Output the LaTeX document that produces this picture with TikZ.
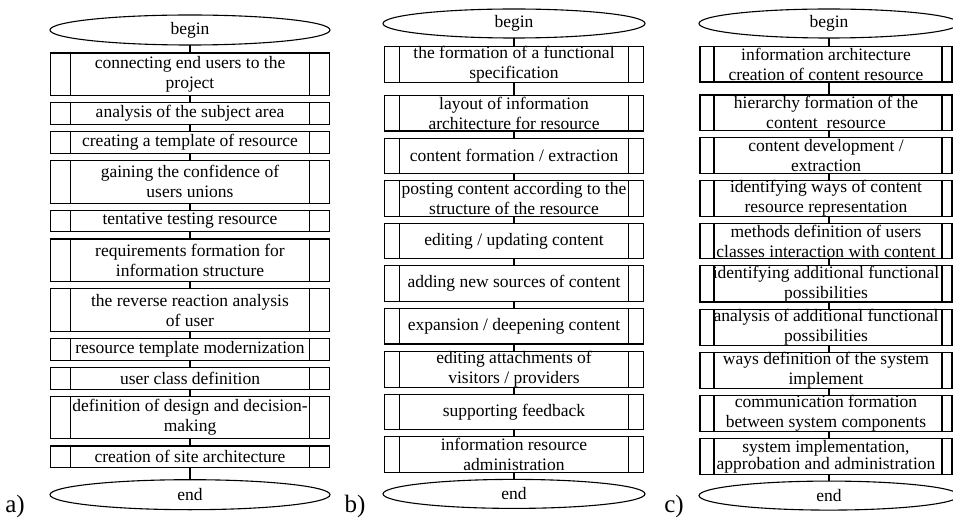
\documentclass[tikz,border=0pt]{standalone}
\usepackage{fontspec}
\setmainfont{Liberation Serif}
\usetikzlibrary{positioning,shapes.geometric}
\tikzset{
    chart/.style={
        x=1pt,
        y=-1pt,
        line width=1.1pt,
        font=\fontsize{17.5}{20}\selectfont,
    },
    term/.style={
        ellipse,
        draw=black,
        inner sep=0pt,
        outer sep=0pt,
        minimum height=30pt,
    },
    subproc/.style 2 args={
        rectangle,
        draw=black,
        align=center,
        inner xsep=0pt,
        inner ysep=0pt,
        outer sep=0pt,
        path picture={
            \draw ([xshift=#1]path picture bounding box.north west) -- ([xshift=#1]path picture bounding box.south west)
                  ([xshift=-#2]path picture bounding box.north east) -- ([xshift=-#2]path picture bounding box.south east);
        },
    },
    boxa/.style={subproc={20pt}{20pt}, minimum width=279pt},
    boxb/.style={subproc={15pt}{15pt}, minimum width=259pt},
    boxc/.style={subproc={14pt}{10pt}, minimum width=252pt},
    one/.style={minimum height=21.7pt},
    two/.style={minimum height=42.7pt},
    mid/.style={minimum height=35.5pt},
    tight/.style={font=\fontsize{17.5}{15.5}\selectfont},
    lbl/.style={anchor=base, font=\fontsize{25}{28}\selectfont},
}

\begin{document}
\begin{tikzpicture}[chart]
    \clip (0,0) rectangle (953,521);
    % a)
    \node[term,minimum width=280pt](a0) at (190,30) {begin};
    \node[boxa,two,below=8pt of a0](a1){connecting end users to the\\project};
    \node[boxa,one,below=7.1pt of a1](a2){analysis of the subject area};
    \node[boxa,one,below=7.1pt of a2](a3){creating a template of resource};
    \node[boxa,two,below=7.1pt of a3](a4){gaining the confidence of\\users unions};
    \node[boxa,one,below=7.1pt of a4](a5){tentative testing resource};
    \node[boxa,two,below=7.1pt of a5](a6){requirements formation for\\information structure};
    \node[boxa,two,below=7.1pt of a6](a7){the reverse reaction analysis\\of user};
    \node[boxa,one,below=7.1pt of a7](a8){resource template modernization};
    \node[boxa,one,below=7.1pt of a8](a9){user class definition};
    \node[boxa,two,below=7.1pt of a9](a10){definition of design and decision-\\making};
    \node[boxa,one,below=7.1pt of a10](a11){creation of site architecture};
    \node[term,minimum width=280pt,below=12pt of a11](a12){end};
    \node[lbl](la) at (15,512) {a)};

    % b)
    \node[term,minimum width=262pt,minimum height=29pt](b0) at (514,23.5) {begin};
    \node[boxb,mid,below=8.5pt of b0](b1){the formation of a functional\\specification};
    \node[boxb,mid,below=13pt of b1](b2){layout of information\\architecture for resource};
    \node[boxb,mid,below=7.1pt of b2](b3){content formation / extraction};
    \node[boxb,mid,below=7.1pt of b3](b4){posting content according to the\\structure of the resource};
    \node[boxb,mid,below=7.1pt of b4](b5){editing / updating content};
    \node[boxb,mid,below=7.1pt of b5](b6){adding new sources of content};
    \node[boxb,mid,below=7.1pt of b6](b7){expansion / deepening content};
    \node[boxb,mid,below=7.1pt of b7](b8){editing attachments of\\visitors / providers};
    \node[boxb,mid,below=7.1pt of b8](b9){supporting feedback};
    \node[boxb,mid,below=7.1pt of b9](b10){information resource\\administration};
    \node[term,minimum width=262pt,minimum height=29pt,below=7pt of b10](b11){end};
    \node[lbl](lb) at (355,512) {b)};

    % c)
    \node[term,minimum width=260pt,minimum height=29pt](c0) at (829,23.5) {begin};
    \node[boxc,mid,below=8.5pt of c0,xshift=-3pt](c1){information architecture\\creation of content resource};
    \node[boxc,mid,below=13pt of c1](c2){hierarchy formation of the\\content\ \ resource};
    \node[boxc,mid,below=7.1pt of c2](c3){content development /\\extraction};
    \node[boxc,mid,below=7.1pt of c3](c4){identifying ways of content\\resource representation};
    \node[boxc,mid,below=7.1pt of c4](c5){methods definition of users\\classes interaction with content};
    \node[boxc,mid,below=7.1pt of c5](c6){identifying additional functional\\possibilities};
    \node[boxc,mid,below=7.1pt of c6](c7){analysis of additional functional\\possibilities};
    \node[boxc,mid,below=7.1pt of c7](c8){ways definition of the system\\implement};
    \node[boxc,mid,below=7.1pt of c8](c9){communication formation\\between system components};
    \node[boxc,mid,tight,below=7.1pt of c9](c10){system implementation,\\approbation and administration};
    \node[term,minimum width=260pt,minimum height=29pt,below=7pt of c10,xshift=3pt](c11){end};
    \node[lbl](lc) at (674,512) {c)};

    % connectors
    \foreach \i [count=\j] in {0,...,11}
        \draw (a\i.south -| a0) -- (a\j.north -| a0);
    \foreach \c in {b,c}
        \foreach \i [count=\j] in {0,...,10}
            \draw (\c\i.south -| \c0) -- (\c\j.north -| \c0);
\end{tikzpicture}
\end{document}
